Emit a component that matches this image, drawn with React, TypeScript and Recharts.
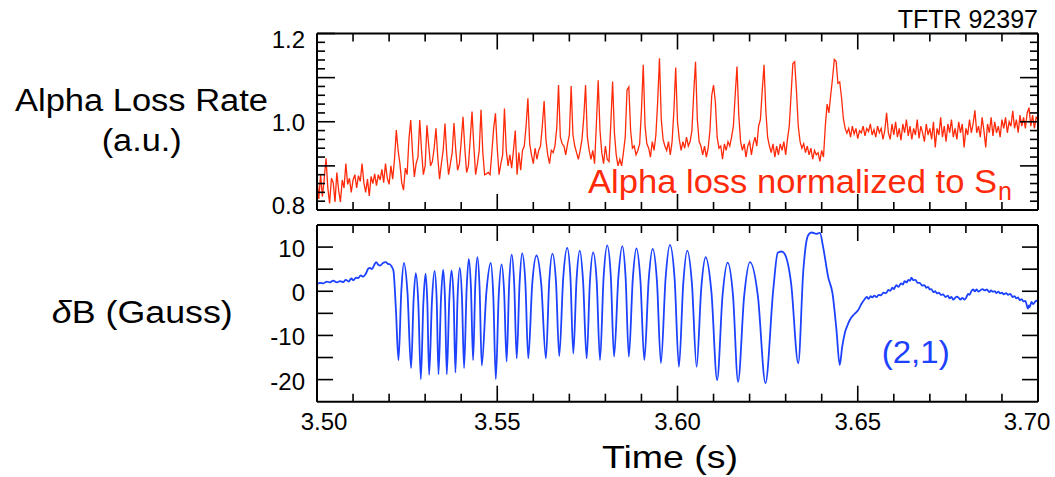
import { LineChart, Line, XAxis, YAxis } from 'recharts'

const W = 1055
const H = 477
const FONT = '"Liberation Sans", Arial, Helvetica, sans-serif'
const RED = '#ff2a0a'
const BLUE = '#1c42ff'

// alpha loss rate (a.u.), one reading every 0.5 ms starting at 3.500 s
const alphaStart = 3.5
const alphaStep = 0.0005
const alphaLoss = [
  0.870, 0.825, 0.880, 0.830, 0.870, 0.917, 0.850, 0.815, 0.872, 0.862,
  0.818, 0.885, 0.845, 0.818, 0.868, 0.850, 0.905, 0.858, 0.872, 0.840,
  0.868, 0.880, 0.850, 0.878, 0.865, 0.905, 0.862, 0.840, 0.870, 0.832,
  0.876, 0.860, 0.882, 0.855, 0.880, 0.868, 0.892, 0.862, 0.905, 0.872,
  0.858, 0.900, 0.870, 0.915, 0.981, 0.935, 0.905, 0.862, 0.845, 0.895,
  0.880, 0.960, 1.004, 0.930, 0.875, 0.905, 0.920, 1.004, 0.935, 0.880,
  0.900, 0.992, 0.945, 0.900, 0.910, 0.940, 0.985, 0.920, 0.870, 0.905,
  0.935, 0.996, 0.925, 0.880, 0.905, 0.930, 0.997, 0.935, 0.890, 0.905,
  0.955, 1.011, 0.940, 0.885, 0.900, 0.960, 1.023, 0.945, 0.880, 0.905,
  0.935, 1.027, 0.930, 0.880, 0.882, 0.885, 0.880, 0.930, 0.985, 1.019,
  0.940, 0.880, 0.905, 0.925, 1.030, 0.935, 0.900, 0.925, 0.895, 0.935,
  0.980, 0.880, 0.930, 0.890, 0.935, 0.945, 0.990, 1.053, 0.950, 0.925,
  0.905, 0.940, 0.915, 0.935, 0.945, 0.990, 1.047, 0.960, 0.925, 0.905,
  0.935, 0.930, 0.945, 0.985, 1.083, 0.965, 0.950, 0.945, 0.925, 0.950,
  0.970, 1.081, 0.970, 0.945, 0.930, 0.915, 0.935, 0.960, 1.010, 1.083,
  0.965, 0.935, 0.915, 0.935, 0.905, 0.995, 1.094, 0.980, 0.930, 0.905,
  0.945, 0.915, 0.910, 0.995, 1.091, 0.975, 0.925, 0.900, 0.915, 0.900,
  0.930, 0.965, 1.072, 1.079, 0.980, 0.940, 0.945, 0.925, 0.935, 0.950,
  1.025, 1.129, 0.990, 0.950, 0.940, 0.920, 0.955, 0.935, 0.970, 1.045,
  1.144, 1.005, 0.960, 0.945, 0.935, 0.955, 0.925, 0.955, 1.025, 1.123,
  1.000, 0.960, 0.935, 0.955, 0.940, 0.965, 0.945, 0.955, 0.980, 1.065,
  1.136, 1.005, 0.955, 0.945, 0.925, 0.945, 0.920, 0.940, 0.980, 1.060,
  1.083, 1.045, 0.965, 0.940, 0.945, 0.915, 0.950, 0.935, 0.955, 0.945,
  0.965, 0.990, 1.060, 1.125, 1.015, 0.955, 0.935, 0.950, 0.920, 0.945,
  0.955, 0.925, 0.950, 0.965, 0.945, 0.990, 1.005, 1.070, 1.129, 1.025,
  0.965, 0.945, 0.930, 0.950, 0.920, 0.945, 0.925, 0.950, 0.935, 0.955,
  0.925, 0.960, 0.990, 1.060, 1.132, 1.136, 1.070, 0.990, 0.955, 0.940,
  0.950, 0.930, 0.945, 0.925, 0.940, 0.915, 0.935, 0.925, 0.930, 0.910,
  0.935, 0.920, 0.990, 1.040, 1.020, 1.060, 1.098, 1.141, 1.137, 1.087,
  1.090, 1.055, 1.008, 0.985, 0.974, 0.985, 0.965, 0.990, 0.972, 0.985,
  0.962, 0.980, 0.975, 0.990, 0.968, 0.985, 0.978, 0.995, 0.970, 0.982,
  0.965, 0.990, 0.975, 0.985, 0.960, 0.980, 1.020, 0.975, 0.960, 0.995,
  0.970, 1.000, 0.965, 0.985, 0.958, 0.995, 0.975, 1.005, 0.968, 0.990,
  0.960, 0.985, 0.970, 1.005, 0.962, 0.990, 0.975, 0.955, 0.995, 0.970,
  0.985, 0.960, 1.000, 0.942, 0.985, 0.970, 1.010, 0.965, 0.990, 0.955,
  0.995, 0.975, 1.005, 0.965, 0.985, 0.960, 1.000, 0.975, 0.995, 0.942,
  0.985, 0.970, 1.005, 0.975, 0.995, 1.026, 0.975, 0.990, 0.965, 1.010,
  0.980, 0.942, 0.995, 0.975, 1.010, 0.968, 1.000, 0.975, 0.990, 0.965,
  1.005, 0.985, 1.010, 0.975, 1.000, 0.990, 1.025, 0.985, 1.005, 0.975,
  1.015, 0.990, 1.010, 0.985, 1.020, 1.032, 0.990, 1.015, 0.985, 1.010,
  1.005,
]

// deltaB (Gauss) as [time s, value]
// slow rise before the mode starts
const dbBefore = [
  [3.5000, 1.6], [3.5009, 1.9], [3.5018, 1.8], [3.5027, 2.2], [3.5036, 2.0],
  [3.5045, 2.4], [3.5055, 2.0], [3.5064, 2.3], [3.5073, 2.1], [3.5080, 2.6],
  [3.5088, 2.2], [3.5095, 2.9], [3.5101, 2.5], [3.5108, 3.1], [3.5115, 3.0],
  [3.5121, 3.6], [3.5128, 3.3], [3.5135, 3.9], [3.5142, 5.1], [3.5147, 5.3],
  [3.5152, 5.0], [3.5158, 5.8], [3.5164, 6.6], [3.5170, 6.0], [3.5175, 5.8],
  [3.5183, 6.4], [3.5191, 6.6], [3.5197, 6.2], [3.5202, 6.1], [3.5207, 5.6],
  [3.5212, 4.7], [3.5219, -4.3],
]
// (2,1) oscillation: trough, rising flank, crest, falling flank ...
const dbMode = [
  [3.5226, -15.6], [3.5234, 0.2], [3.5241, 6.4], [3.5251, -0.3],
  [3.5261, -17.4], [3.5268, -1.9], [3.5274, 4.1], [3.5281, -2.6],
  [3.5288, -19.9], [3.5295, -2.7], [3.5301, 4.0], [3.5306, -2.4],
  [3.5311, -18.9], [3.5319, -2.0], [3.5326, 4.6], [3.5332, -1.9],
  [3.5337, -18.8], [3.5344, -1.7], [3.5350, 4.9], [3.5355, -1.7],
  [3.5360, -18.8], [3.5367, -1.9], [3.5373, 4.7], [3.5379, -1.8],
  [3.5384, -18.4], [3.5390, -1.3], [3.5396, 5.3], [3.5402, -1.1],
  [3.5408, -17.4], [3.5415, 0.4], [3.5421, 7.3], [3.5427, 0.9],
  [3.5433, -15.6], [3.5439, 1.2], [3.5445, 7.7], [3.5451, 0.8],
  [3.5457, -16.8], [3.5470, -0.1], [3.5482, 6.4], [3.5489, -1.0],
  [3.5496, -19.9], [3.5504, -1.2], [3.5512, 6.1], [3.5519, 0.0],
  [3.5526, -15.9], [3.5533, 1.5], [3.5540, 8.3], [3.5547, 1.7],
  [3.5554, -15.2], [3.5562, 1.9], [3.5569, 8.6], [3.5578, 1.9],
  [3.5586, -15.2], [3.5597, 1.6], [3.5609, 8.1], [3.5622, 1.6],
  [3.5635, -15.2], [3.5644, 1.9], [3.5653, 8.5], [3.5663, 2.0],
  [3.5672, -14.7], [3.5683, 3.0], [3.5694, 9.8], [3.5703, 3.1],
  [3.5711, -14.1], [3.5720, 2.7], [3.5729, 9.2], [3.5738, 2.4],
  [3.5748, -15.2], [3.5757, 2.1], [3.5766, 8.8], [3.5776, 2.0],
  [3.5785, -15.6], [3.5795, 3.1], [3.5805, 10.4], [3.5815, 3.4],
  [3.5824, -14.8], [3.5836, 3.2], [3.5847, 10.2], [3.5856, 3.2],
  [3.5865, -14.8], [3.5876, 2.8], [3.5886, 9.7], [3.5897, 2.6],
  [3.5908, -15.6], [3.5920, 2.5], [3.5931, 9.6], [3.5943, 2.3],
  [3.5954, -16.3], [3.5967, 3.0], [3.5979, 10.5], [3.5992, 2.8],
  [3.6004, -17.1], [3.6016, 1.8], [3.6027, 9.2], [3.6040, 1.8],
  [3.6053, -17.1], [3.6066, 0.8], [3.6078, 7.7], [3.6094, -0.1],
  [3.6110, -20.1], [3.6125, -0.9], [3.6139, 6.5], [3.6154, -1.0],
  [3.6168, -20.5], [3.6185, -1.0], [3.6201, 6.6], [3.6223, -1.1],
  [3.6244, -20.8], [3.6266, 0.7], [3.6278, 8.7], [3.6288, 9.0], [3.6296, 8.6], [3.6315, 1.9],
  [3.6335, -16.3], [3.6349, 4.7], [3.6358, 11.5], [3.6365, 13.0], [3.6372, 13.3],
  [3.6385, 13.0], [3.6395, 13.2], [3.6404, 10.0], [3.6418, 3.2], [3.6430, -0.5],
  [3.6441, -8.8],
]
// recovery after the crash
const dbAfter = [
  [3.6450, -16.7], [3.6457, -12.5], [3.6464, -9.5], [3.6471, -7.8], [3.6478, -6.5],
  [3.6490, -5.2], [3.6501, -4.3], [3.6510, -2.9], [3.6519, -1.8], [3.6525, -1.3],
  [3.6530, -1.7], [3.6536, -1.1], [3.6540, -1.4], [3.6546, -1.0], [3.6552, -1.3],
  [3.6558, -0.8], [3.6565, -0.9], [3.6571, -0.3], [3.6579, -0.4], [3.6585, 0.3],
  [3.6590, 0.1], [3.6596, 0.8], [3.6600, 0.5], [3.6607, 1.4], [3.6613, 1.0],
  [3.6620, 1.8], [3.6625, 1.5], [3.6630, 2.3], [3.6636, 2.0], [3.6640, 2.6],
  [3.6645, 2.4], [3.6649, 3.1], [3.6654, 2.5], [3.6660, 2.6], [3.6666, 1.9],
  [3.6672, 1.9], [3.6678, 1.3], [3.6685, 1.4], [3.6690, 0.8], [3.6695, 1.0],
  [3.6700, 0.4], [3.6704, 0.5], [3.6710, -0.2], [3.6715, 0.0], [3.6720, -0.5],
  [3.6725, -0.3], [3.6731, -0.8], [3.6737, -0.7], [3.6743, -1.3], [3.6750, -1.0],
  [3.6755, -1.6], [3.6760, -1.3], [3.6765, -1.9], [3.6769, -1.6], [3.6775, -1.2],
  [3.6780, -1.5], [3.6785, -1.9], [3.6790, -1.5], [3.6796, -1.9], [3.6801, -1.4],
  [3.6806, -0.6], [3.6810, -0.8], [3.6815, 0.0], [3.6820, 0.4], [3.6825, 0.0],
  [3.6830, 0.4], [3.6835, -0.1], [3.6840, 0.2], [3.6846, 0.5], [3.6852, 0.2],
  [3.6858, 0.4], [3.6865, -0.2], [3.6870, 0.2], [3.6875, -0.1], [3.6880, 0.0],
  [3.6884, -0.4], [3.6890, -0.1], [3.6895, -0.5], [3.6900, -0.3], [3.6905, -0.7],
  [3.6911, -0.4], [3.6917, -0.8], [3.6923, -0.6], [3.6930, -1.3], [3.6935, -1.1],
  [3.6940, -1.6], [3.6945, -1.4], [3.6949, -2.0], [3.6955, -1.8], [3.6960, -2.3],
  [3.6965, -2.2], [3.6968, -2.9], [3.6972, -3.9], [3.6975, -3.2], [3.6977, -3.6],
  [3.6982, -2.4], [3.6986, -2.9], [3.6990, -2.6], [3.6995, -2.1], [3.7000, -2.4],
]

const timeTicks = [
  3.5, 3.51, 3.52, 3.53, 3.54, 3.55, 3.56, 3.57, 3.58, 3.59, 3.6,
  3.61, 3.62, 3.63, 3.64, 3.65, 3.66, 3.67, 3.68, 3.69, 3.7,
]
const alphaTicks = [
  0.8, 0.82, 0.84, 0.86, 0.88, 0.9, 0.92, 0.94, 0.96, 0.98, 1.0,
  1.02, 1.04, 1.06, 1.08, 1.1, 1.12, 1.14, 1.16, 1.18, 1.2,
]
const alphaLabels = [0.8, 1.0, 1.2]
const dbTicks = [-20, -15, -10, -5, 0, 5, 10]
const dbLabels = [-20, -10, 0, 10]

const alphaData = alphaLoss.map((v, i) => ({ t: +(alphaStart + i * alphaStep).toFixed(4), v }))
const dbData = [...dbBefore, ...dbMode, ...dbAfter].map(([t, v]) => ({ t, v }))

// plot frame
const PL = 317
const PR = 1038
const TOP1 = 33.5
const BOT1 = 210
const TOP2 = 225
const BOT2 = 401.7
const YW = 60 // left axis box
const RW = 10 // right axis box
const XH = 10 // x axis box

const isMajorTime = (v: number) => Math.round(v * 100) % 5 === 0

function timeTick(dir: number, labels: boolean) {
  return (props: any) => {
    const { x, y, payload } = props
    const v = payload.value as number
    const major = isMajorTime(v)
    const len = major ? 16 : 8
    let shift = 0
    if (v < 3.505) shift = 7
    if (v > 3.695) shift = -11
    return (
      <g>
        <line x1={x} y1={y} x2={x} y2={y + dir * len} stroke="#000" strokeWidth={1.6} />
        {labels && major && (
          <text x={x + shift} y={y + 28} textAnchor="middle" fontSize={24} fontFamily={FONT} fill="#000">
            {v.toFixed(2)}
          </text>
        )}
      </g>
    )
  }
}

function alphaTick(dir: number, labels: boolean) {
  return (props: any) => {
    const { x, y, payload } = props
    const v = payload.value as number
    const major = Math.round(v * 100) % 10 === 0
    const len = major ? 18 : 8
    const show = labels && alphaLabels.some((l) => Math.abs(l - v) < 1e-6)
    const dy = v > 1.15 ? 14 : v < 0.85 ? 4 : 9.5
    return (
      <g>
        <line x1={x} y1={y} x2={x + dir * len} y2={y} stroke="#000" strokeWidth={1.6} />
        {show && (
          <text x={x - 12} y={y + dy} textAnchor="end" fontSize={24} fontFamily={FONT} fill="#000">
            {v.toFixed(1)}
          </text>
        )}
      </g>
    )
  }
}

function dbTick(dir: number, labels: boolean) {
  return (props: any) => {
    const { x, y, payload } = props
    const v = payload.value as number
    const show = labels && dbLabels.includes(v)
    return (
      <g>
        <line x1={x} y1={y} x2={x + dir * 16} y2={y} stroke="#000" strokeWidth={1.6} />
        {show && (
          <text x={x - 12} y={y + 10} textAnchor="end" fontSize={24} fontFamily={FONT} fill="#000">
            {v}
          </text>
        )}
      </g>
    )
  }
}

const frame = { stroke: '#000', strokeWidth: 2 }

function Panel({ data, top, bottom, domain, yTicks, yTick, rTick, xTick, color, width, curve }: any) {
  return (
    <div style={{ position: 'absolute', left: 0, top: 0 }}>
      <LineChart width={W} height={H} data={data}
        margin={{ top: top - XH, right: W - PR - RW, bottom: H - bottom - XH, left: PL - YW }}>
        <XAxis xAxisId="b" dataKey="t" type="number" domain={[3.5, 3.7]} allowDataOverflow
          ticks={timeTicks} interval={0} height={XH} tickSize={0} tickMargin={0}
          tickLine={false} axisLine={frame} tick={xTick} />
        <XAxis xAxisId="t" dataKey="t" type="number" orientation="top" domain={[3.5, 3.7]} allowDataOverflow
          ticks={timeTicks} interval={0} height={XH} tickSize={0} tickMargin={0}
          tickLine={false} axisLine={frame} tick={timeTick(1, false)} />
        <YAxis yAxisId="l" type="number" domain={domain} allowDataOverflow
          ticks={yTicks} interval={0} width={YW} tickSize={0} tickMargin={0}
          tickLine={false} axisLine={frame} tick={yTick} />
        <YAxis yAxisId="r" type="number" orientation="right" domain={domain} allowDataOverflow
          ticks={yTicks} interval={0} width={RW} tickSize={0} tickMargin={0}
          tickLine={false} axisLine={frame} tick={rTick} />
        <Line xAxisId="b" yAxisId="l" type={curve} dataKey="v" stroke={color} strokeWidth={width}
          dot={false} isAnimationActive={false} />
      </LineChart>
    </div>
  )
}

export default function App() {
  return (
    <div style={{ position: 'absolute', left: 0, top: 0, width: W, height: H, background: '#fff', fontFamily: FONT }}>
      <Panel data={alphaData} top={TOP1} bottom={BOT1} domain={[0.8, 1.2]} yTicks={alphaTicks}
        yTick={alphaTick(1, true)} rTick={alphaTick(-1, false)} xTick={timeTick(-1, false)}
        color={RED} width={1.3} curve="linear" />
      <Panel data={dbData} top={TOP2} bottom={BOT2} domain={[-25, 15]} yTicks={dbTicks}
        yTick={dbTick(1, true)} rTick={dbTick(-1, false)} xTick={timeTick(-1, true)}
        color={BLUE} width={1.8} curve="monotone" />
      <svg width={W} height={H} style={{ position: 'absolute', left: 0, top: 0, pointerEvents: 'none' }}
        fontFamily={FONT}>
        <text x={PR} y={28} textAnchor="end" fontSize={25} fill="#000">TFTR 92397</text>
        <text x={141.5} y={110.5} textAnchor="middle" fontSize={31} fill="#000"
          textLength={253} lengthAdjust="spacingAndGlyphs">Alpha Loss Rate</text>
        <text x={141.7} y={151} textAnchor="middle" fontSize={31} fill="#000"
          textLength={80} lengthAdjust="spacingAndGlyphs">(a.u.)</text>
        <text x={142.3} y={323} textAnchor="middle" fontSize={31} fill="#000"
          textLength={181} lengthAdjust="spacingAndGlyphs">
          <tspan fontStyle="italic">δ</tspan>B (Gauss)
        </text>
        <text x={670} y={468} textAnchor="middle" fontSize={32} fill="#000"
          textLength={136} lengthAdjust="spacingAndGlyphs">Time (s)</text>
        <text x={588} y={193} fontSize={33} fill={RED}
          textLength={409} lengthAdjust="spacingAndGlyphs">Alpha loss normalized to S</text>
        <text x={998} y={200} fontSize={25} fill={RED}>n</text>
        <text x={881.7} y={363} fontSize={32} fill={BLUE}
          textLength={68} lengthAdjust="spacingAndGlyphs">(2,1)</text>
      </svg>
    </div>
  )
}
